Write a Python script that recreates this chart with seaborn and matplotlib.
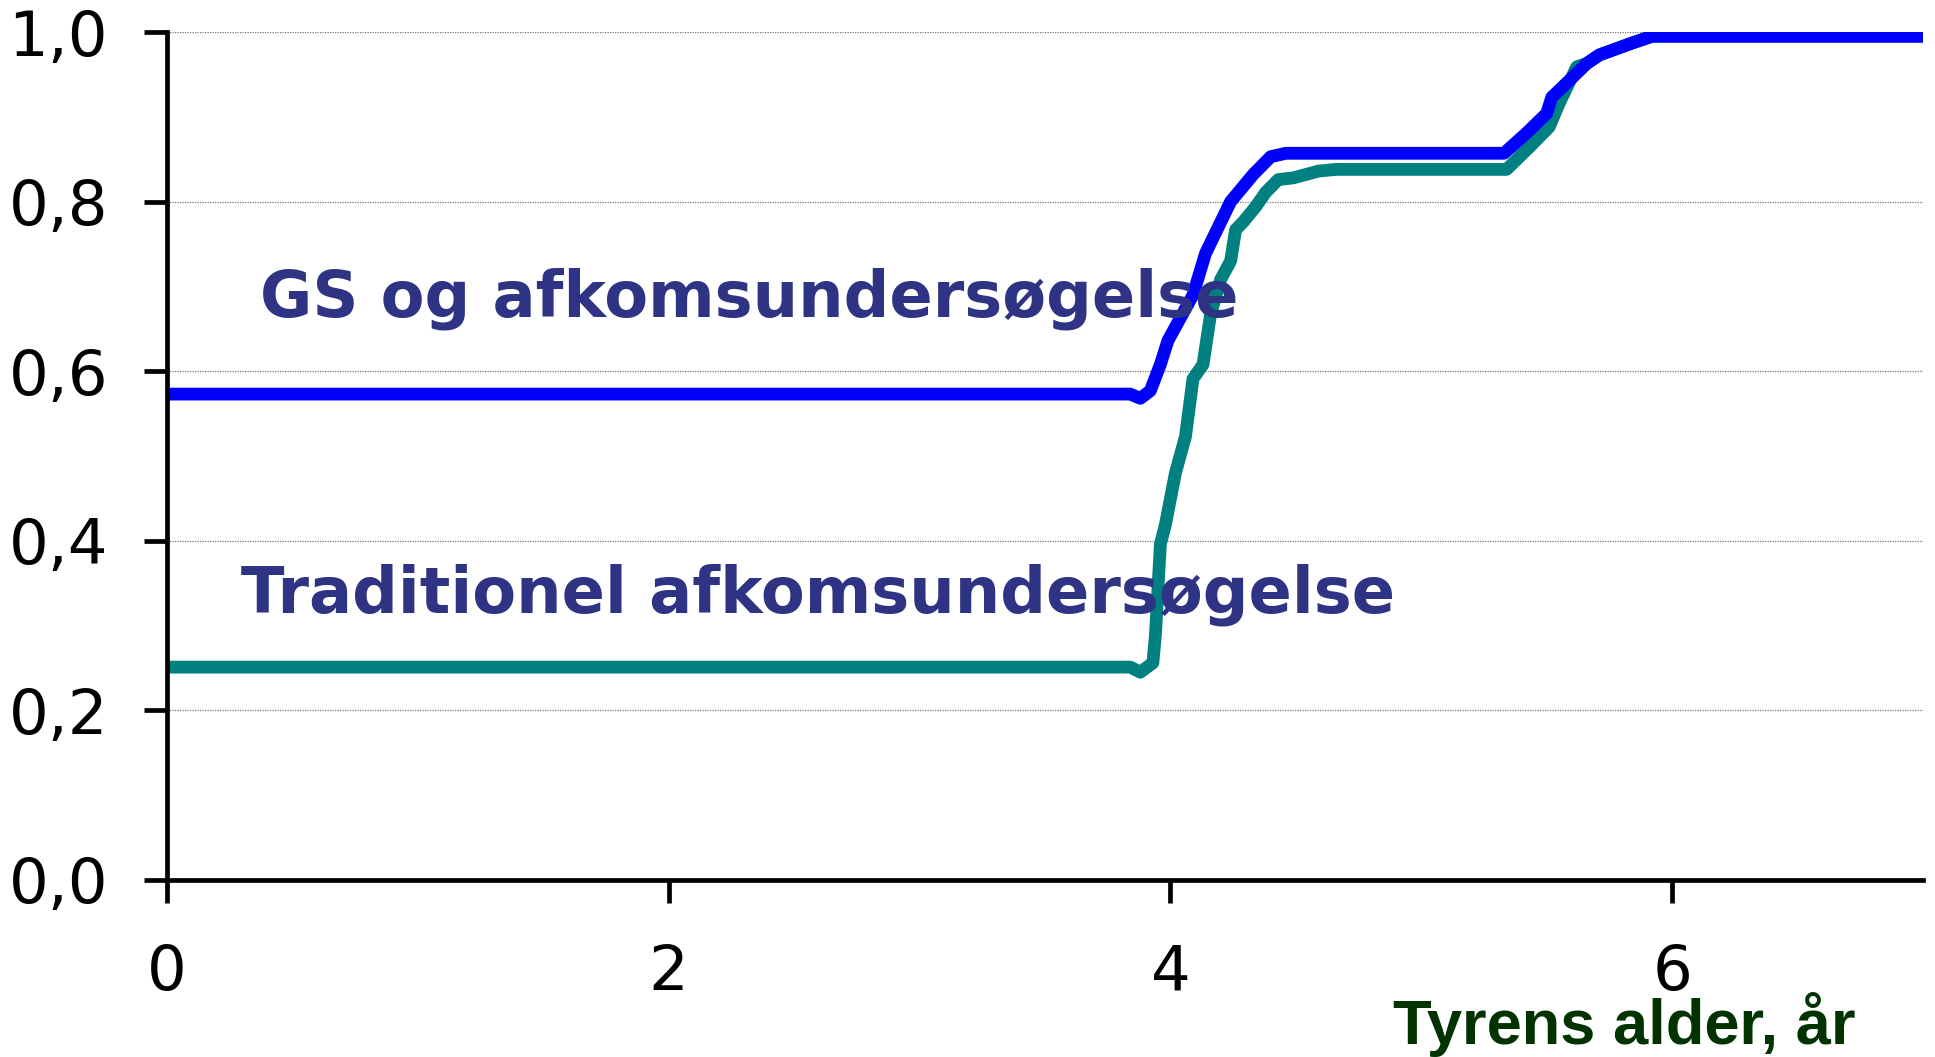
import matplotlib
matplotlib.use("Agg")
import matplotlib.pyplot as plt
import numpy as np
import pandas as pd
import seaborn as sns

# Bull age (years) and probability for the two testing schemes
age_gs = [0.0, 3.84, 3.88, 3.92, 3.96, 3.99, 4.04, 4.09, 4.14, 4.24, 4.33, 4.40,
          4.46, 5.33, 5.42, 5.50, 5.52, 5.58, 5.66, 5.71, 5.84, 5.92, 7.0]
p_gs = [0.573, 0.573, 0.568, 0.577, 0.608, 0.636, 0.663, 0.690, 0.739, 0.800,
        0.832, 0.853, 0.857, 0.857, 0.881, 0.904, 0.923, 0.940, 0.963, 0.973,
        0.987, 0.995, 0.995]

age_trad = [0.0, 3.84, 3.88, 3.93, 3.94, 3.96, 3.98, 4.02, 4.06, 4.09, 4.13, 4.16,
            4.20, 4.24, 4.26, 4.29, 4.34, 4.38, 4.43, 4.49, 4.59, 4.66, 5.34,
            5.43, 5.51, 5.55, 5.62, 5.66, 5.71, 5.84, 5.92, 7.0]
p_trad = [0.251, 0.251, 0.245, 0.256, 0.288, 0.396, 0.419, 0.480, 0.523, 0.591,
          0.608, 0.667, 0.708, 0.730, 0.767, 0.776, 0.794, 0.811, 0.826, 0.828,
          0.836, 0.838, 0.838, 0.864, 0.888, 0.916, 0.959, 0.963, 0.973, 0.987,
          0.995, 0.995]

series_names = ["Traditionel afkomsundersøgelse", "GS og afkomsundersøgelse"]
y_ticks = [0.0, 0.2, 0.4, 0.6, 0.8, 1.0]
y_tick_labels = ["0,0", "0,2", "0,4", "0,6", "0,8", "1,0"]
x_ticks = [0, 2, 4, 6]
x_tick_labels = ["0", "2", "4", "6"]
x_label = "Tyrens alder, år"

df = pd.concat([
    pd.DataFrame({"alder": age_trad, "p": p_trad, "metode": series_names[0]}),
    pd.DataFrame({"alder": age_gs, "p": p_gs, "metode": series_names[1]}),
], ignore_index=True)

sns.set_style("white")
plt.rcParams["font.family"] = ["DejaVu Sans"]

fig = plt.figure(figsize=(19.35, 10.57), dpi=100)
ax = fig.add_axes([0.0863, 0.1675, 0.9075, 0.8022])

# dotted horizontal grid
grid_lines = [ax.axhline(yv, color="#777777", linestyle=(0, (1, 1)),
                         linewidth=0.9, zorder=0) for yv in y_ticks[1:]]

palette = {series_names[0]: "#008080", series_names[1]: "#0000FF"}
sns.lineplot(data=df, x="alder", y="p", hue="metode", hue_order=series_names,
             palette=palette, sort=False, legend=False, ax=ax, linewidth=9.2)
for line in ax.get_lines():
    if line not in grid_lines:
        line.set_linewidth(9.2)
        line.set_solid_capstyle("butt")
        line.set_solid_joinstyle("round")
        line.set_zorder(3)

ax.set_xlim(0, 7)
ax.set_ylim(0, 1.0)
ax.set_yticks(y_ticks)
ax.set_yticklabels(y_tick_labels)
ax.set_xticks(x_ticks)
ax.set_xticklabels(x_tick_labels)

for side in ["top", "right"]:
    ax.spines[side].set_visible(False)
for side in ["left", "bottom"]:
    ax.spines[side].set_color("black")
    ax.spines[side].set_linewidth(3.4)
    ax.spines[side].set_zorder(5)

ax.tick_params(axis="both", direction="out", length=16.5, width=3.4,
               colors="black", labelsize=45, left=True, bottom=True)
ax.tick_params(axis="y", pad=26)
ax.tick_params(axis="x", pad=29)

ax.set_ylabel("")
ax.set_xlabel(x_label, fontsize=45.5, fontweight="bold", color="#003300",
              family=["Liberation Sans", "DejaVu Sans"])
ax.xaxis.label.set_ha("left")
ax.xaxis.label.set_va("baseline")
ax.xaxis.set_label_coords(0.698, -0.193)

text_color = "#2E3383"
ax.text(0.37, 0.665, series_names[1], fontsize=46, fontweight="bold",
        color=text_color, va="baseline", ha="left")
ax.text(0.295, 0.316, series_names[0], fontsize=46, fontweight="bold",
        color=text_color, va="baseline", ha="left")

fig.savefig("out.png", dpi=100)
